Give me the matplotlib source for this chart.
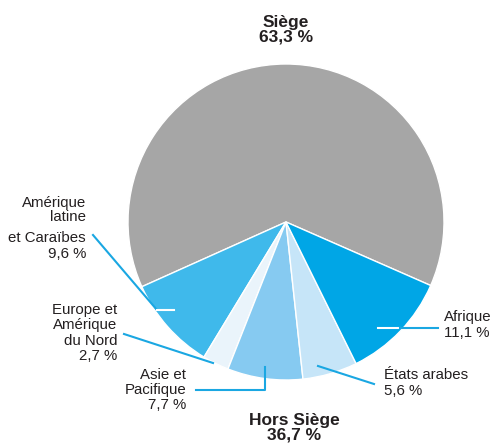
import matplotlib.pyplot as plt

plt.rcParams['font.family'] = ['Liberation Sans', 'DejaVu Sans']

# data, counterclockwise from the Afrique / Siège boundary
labels = ['Siège', 'Amérique latine et Caraïbes', 'Europe et Amérique du Nord',
          'Asie et Pacifique', 'États arabes', 'Afrique']
shares = [63.3, 9.6, 2.7, 7.7, 5.6, 11.1]
colors = ['#a6a6a6', '#3fb9eb', '#eaf4fb', '#86caf1', '#c6e5f8', '#00a6e6']

W, H = 493, 446
fig = plt.figure(figsize=(W / 100, H / 100), dpi=100)
ax = fig.add_axes([0, 0, 1, 1])

cx, cy, r = 286, H - 222, 158
ax.pie(shares, colors=colors, startangle=-23.7, counterclock=True,
       center=(cx, cy), radius=r, frame=True,
       wedgeprops=dict(edgecolor='white', linewidth=1))
ax.set_xlim(0, W)
ax.set_ylim(0, H)
ax.set_aspect('equal')
ax.axis('off')

def Y(py):
    return H - py

line_c = '#1aa7e2'
txt_c = '#231f20'
fs = 10.8

# Siège / Hors Siège headings
ax.text(286, Y(30), 'Siège\n63,3 %', ha='center', va='center', fontsize=12.5,
        fontweight='bold', linespacing=1.0, color=txt_c)
ax.text(294, Y(428), 'Hors Siège\n36,7 %', ha='center', va='center', fontsize=12.5,
        fontweight='bold', linespacing=1.0, color=txt_c)

# Afrique
ax.plot([378, 400], [Y(328), Y(328)], color='white', lw=1.5)
ax.plot([400, 438], [Y(328), Y(328)], color=line_c, lw=1.5)
ax.text(444, Y(325), 'Afrique\n11,1 %', ha='left', va='center', fontsize=fs,
        linespacing=1.2, color=txt_c)

# États arabes
ax.plot([318, 374], [Y(366), Y(384)], color=line_c, lw=1.5)
ax.text(384, Y(383), 'États arabes\n5,6 %', ha='left', va='center', fontsize=fs,
        linespacing=1.2, color=txt_c)

# Asie et Pacifique
ax.plot([196, 265, 265], [Y(390), Y(390), Y(367)], color=line_c, lw=1.5)
ax.text(186, Y(390), 'Asie et\nPacifique\n7,7 %', ha='right', va='center',
        fontsize=fs, linespacing=1.1, color=txt_c)

# Europe et Amérique du Nord
ax.plot([124, 213], [Y(334), Y(363)], color=line_c, lw=1.5)
ax.text(117, Y(333), 'Europe et\nAmérique\ndu Nord\n2,7 %', ha='right', va='center',
        fontsize=fs, linespacing=1.1, color=txt_c)

# Amérique latine et Caraïbes
ax.plot([93, 157], [Y(235), Y(310)], color=line_c, lw=1.5)
ax.plot([157, 174], [Y(310), Y(310)], color='white', lw=1.5)
ax.text(86, Y(210), 'Amérique\nlatine', ha='right', va='center', fontsize=fs,
        linespacing=1.0, color=txt_c)
ax.text(86, Y(246), 'et Caraïbes\n9,6 %', ha='right', va='center', fontsize=fs,
        linespacing=1.2, color=txt_c)

fig.savefig('out.png', dpi=100)
